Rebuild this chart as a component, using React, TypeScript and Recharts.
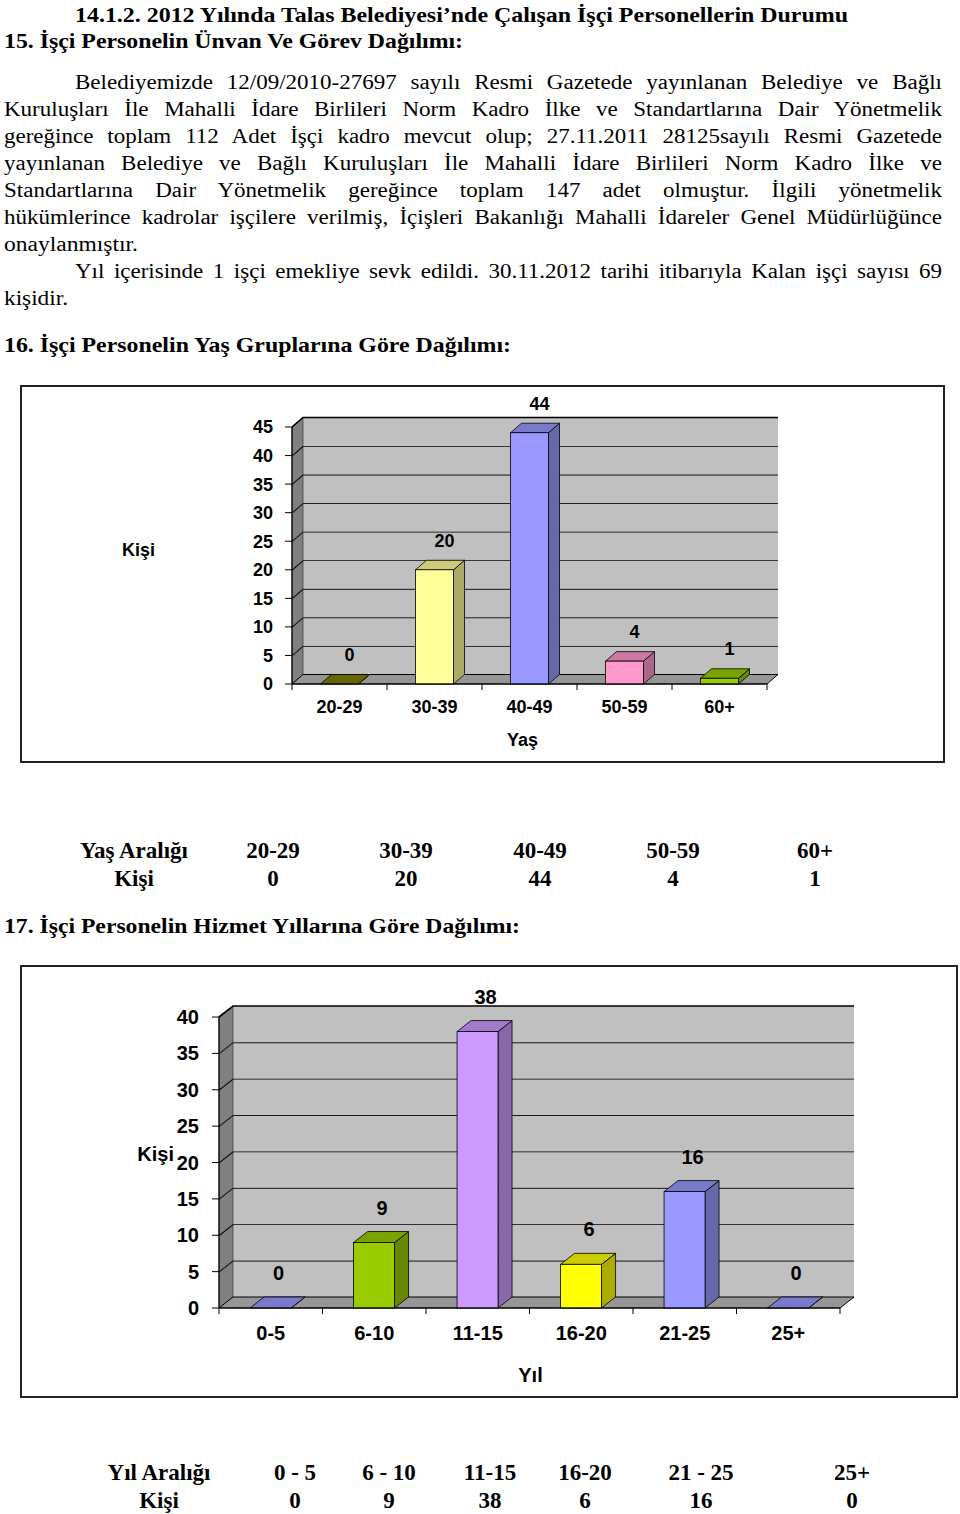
import React, { useLayoutEffect, useRef, useState } from 'react';
import { BarChart, Bar, XAxis, YAxis, ReferenceArea, Cell, LabelList } from 'recharts';

// 16. Yaş grupları
const yasGruplari = ['20-29', '30-39', '40-49', '50-59', '60+'];
const yasKisi = [0, 20, 44, 4, 1];
const yasTicks = [0, 5, 10, 15, 20, 25, 30, 35, 40, 45];

// 17. Hizmet yılları
const yilGruplari = ['0-5', '6-10', '11-15', '16-20', '21-25', '25+'];
const yilTabloEtiketleri = ['0 - 5', '6 - 10', '11-15', '16-20', '21 - 25', '25+'];
const yilKisi = [0, 9, 38, 6, 16, 0];
const yilTicks = [0, 5, 10, 15, 20, 25, 30, 35, 40];

const yasRenkleri = ['#808000', '#FFFF99', '#9999FF', '#FF99CC', '#99CC00'];
const yilRenkleri = ['#9999FF', '#99CC00', '#CC99FF', '#FFFF00', '#9999FF', '#9999FF'];

const yasVeri = yasGruplari.map((ad, i) => ({ ad, kisi: yasKisi[i] }));
const yilVeri = yilGruplari.map((ad, i) => ({ ad, kisi: yilKisi[i] }));

const SERIF = '"Liberation Serif", "Times New Roman", serif';
const SANS = '"Liberation Sans", Arial, sans-serif';

function shade(hex: string, k: number) {
  const n = parseInt(hex.slice(1), 16);
  const c = (v: number) => Math.round(v * k).toString(16).padStart(2, '0');
  return '#' + c((n >> 16) & 255) + c((n >> 8) & 255) + c(n & 255);
}

// 3B çubuk: ön yüz + yan + üst
const kutu = (dx: number, dy: number) => (props: any) => {
  const { x, y, width: w, height: h, fill } = props;
  const b = y + h;
  return (
    <g>
      <polygon
        points={`${x + w},${y} ${x + w + dx},${y + dy} ${x + w + dx},${b + dy} ${x + w},${b}`}
        fill={shade(fill, 0.67)}
        stroke="#000"
        strokeWidth={0.8}
      />
      <polygon
        points={`${x},${y} ${x + dx},${y + dy} ${x + w + dx},${y + dy} ${x + w},${y}`}
        fill={shade(fill, 0.8)}
        stroke="#000"
        strokeWidth={0.8}
      />
      <rect x={x} y={y} width={w} height={h} fill={fill} stroke="#000" strokeWidth={0.8} />
    </g>
  );
};

// arka duvar, sol duvar ve taban, her ızgara aralığı için bir parça
const duvar = (dx: number, dy: number, taban: boolean, n: number) => (props: any) => {
  const { x, y, width: w, height: h } = props;
  const b = y + h;
  return (
    <g>
      <rect x={x + dx} y={y + dy} width={w} height={h} fill="#C0C0C0" />
      <polygon
        points={`${x},${y} ${x + dx},${y + dy} ${x + dx},${b + dy} ${x},${b}`}
        fill="#808080"
        stroke="#222"
        strokeWidth={0.6}
      />
      <polyline
        points={`${x},${y} ${x + dx},${y + dy} ${x + dx + w},${y + dy}`}
        fill="none"
        stroke="#000"
        strokeWidth={1.6}
      />
      {taban && (
        <g>
          <polygon
            points={`${x},${b} ${x + w},${b} ${x + w + dx},${b + dy} ${x + dx},${b + dy}`}
            fill="#969696"
            stroke="#000"
            strokeWidth={1}
          />
          {Array.from({ length: n + 1 }, (_, i) => (
            <line key={i} x1={x + (i * w) / n} y1={b} x2={x + (i * w) / n} y2={b + 6} stroke="#000" strokeWidth={1} />
          ))}
        </g>
      )}
    </g>
  );
};

function Grafik3B(p: any) {
  const tick = { fill: '#000', fontSize: p.yazi, fontWeight: 700, fontFamily: SANS };
  return (
    <>
      <div
        style={{
          position: 'absolute',
          left: p.left,
          top: p.top,
          width: p.width,
          height: p.height,
          border: '2px solid #222',
          boxSizing: 'border-box',
        }}
      />
      <div style={{ position: 'absolute', left: p.left, top: p.top }}>
        <BarChart width={p.width} height={p.height} data={p.veri} margin={p.margin} barCategoryGap="30%">
          <XAxis
            dataKey="ad"
            height={30}
            tickLine={false}
            tickSize={6}
            tickMargin={p.xTickMargin}
            axisLine={{ stroke: '#000', strokeWidth: 1.2 }}
            tick={tick}
            interval={0}
            label={{
              value: p.xTitle,
              position: 'bottom',
              offset: p.xTitleOffset,
              dx: p.xTitleDx,
              style: { ...tick, fill: '#000' },
            }}
          />
          <YAxis
            type="number"
            width={30}
            domain={[0, p.ticks[p.ticks.length - 1]]}
            ticks={p.ticks}
            interval={0}
            tickSize={7}
            tickMargin={p.yTickMargin}
            tickLine={{ stroke: '#000' }}
            axisLine={{ stroke: '#000', strokeWidth: 1.2 }}
            tick={tick}
            label={{
              value: 'Kişi',
              position: 'left',
              offset: p.yTitleOffset,
              dy: p.yTitleDy,
              style: { ...tick, fill: '#000' },
            }}
          />
          {p.ticks.slice(0, -1).map((t: number, i: number) => (
            <ReferenceArea
              key={t}
              y1={t}
              y2={p.ticks[i + 1]}
              ifOverflow="visible"
              shape={duvar(p.dx, p.dy, i === 0, p.veri.length)}
            />
          ))}
          <Bar dataKey="kisi" isAnimationActive={false} shape={kutu(p.dx, p.dy)}>
            {p.veri.map((_: any, i: number) => (
              <Cell key={i} fill={p.renkler[i]} />
            ))}
            <LabelList
              dataKey="kisi"
              content={(l: any) => {
                const vb = l.viewBox || l;
                const x = vb.x ?? l.x;
                const y = vb.y ?? l.y;
                const w = vb.width ?? l.width;
                return (
                  <text
                    x={x + w / 2 + p.etiketDx}
                    y={y - p.etiketDy}
                    textAnchor="middle"
                    dominantBaseline="central"
                    {...tick}
                  >
                    {l.value}
                  </text>
                );
              }}
            />
          </Bar>
        </BarChart>
      </div>
    </>
  );
}

function Satir({ x, base, right, size = 20, bold = false, justify = false, children }: any) {
  const olc = useRef<HTMLSpanElement>(null);
  const [k, setK] = useState(1.15);
  const hedef = right - x;
  useLayoutEffect(() => {
    const el = olc.current;
    if (!el) return;
    const dogal = el.getBoundingClientRect().width;
    if (!dogal) return;
    setK(justify ? Math.min(1.15, (hedef - 2) / dogal) : hedef / dogal);
  }, [hedef, justify]);
  const font = {
    fontFamily: SERIF,
    fontSize: size,
    fontWeight: bold ? 700 : 400,
    lineHeight: `${size}px`,
    color: '#000',
  };
  return (
    <>
      <span
        ref={olc}
        style={{ ...font, position: 'absolute', left: 0, top: 0, visibility: 'hidden', whiteSpace: 'nowrap' }}
      >
        {children}
      </span>
      <div
        style={{
          ...font,
          position: 'absolute',
          left: x,
          top: base - 0.8375 * size,
          width: hedef / k,
          transform: `scaleX(${k})`,
          transformOrigin: '0 0',
          textAlign: justify ? 'justify' : 'left',
          textAlignLast: justify ? 'justify' : 'auto',
          whiteSpace: justify ? 'normal' : 'nowrap',
        }}
      >
        {children}
      </div>
    </>
  );
}

function Hucre({ cx, base, children }: any) {
  return (
    <div
      style={{
        position: 'absolute',
        left: cx - 80,
        width: 160,
        top: base - 0.8375 * 23,
        textAlign: 'center',
        fontFamily: SERIF,
        fontSize: 23,
        fontWeight: 700,
        lineHeight: '23px',
        whiteSpace: 'nowrap',
      }}
    >
      {children}
    </div>
  );
}

const yasSutunX = [273, 406, 540, 673, 815];
const yilSutunX = [295, 389, 490, 585, 701, 852];

export default function App() {
  return (
    <div style={{ position: 'absolute', left: 0, top: 0, width: 960, height: 1514, background: '#fff', overflow: 'hidden' }}>
      <Satir x={75} base={22.5} right={848} size={21} bold>
        14.1.2. 2012 Yılında Talas Belediyesi’nde Çalışan İşçi Personellerin Durumu
      </Satir>
      <Satir x={4} base={49} right={463} size={21} bold>
        15. İşçi Personelin Ünvan Ve Görev Dağılımı:
      </Satir>

      <Satir x={75} base={88.3} right={942} justify>
        Belediyemizde 12/09/2010-27697 sayılı Resmi Gazetede yayınlanan Belediye ve Bağlı
      </Satir>
      <Satir x={4} base={115.4} right={942} justify>
        Kuruluşları İle Mahalli İdare Birlileri Norm Kadro İlke ve Standartlarına Dair Yönetmelik
      </Satir>
      <Satir x={4} base={142.5} right={942} justify>
        gereğince toplam 112 Adet İşçi kadro mevcut olup; 27.11.2011 28125sayılı Resmi Gazetede
      </Satir>
      <Satir x={4} base={169.6} right={942} justify>
        yayınlanan Belediye ve Bağlı Kuruluşları İle Mahalli İdare Birlileri Norm Kadro İlke ve
      </Satir>
      <Satir x={4} base={196.7} right={942} justify>
        Standartlarına Dair Yönetmelik gereğince toplam 147 adet olmuştur. İlgili yönetmelik
      </Satir>
      <Satir x={4} base={223.8} right={942} justify>
        hükümlerince kadrolar işçilere verilmiş, İçişleri Bakanlığı Mahalli İdareler Genel Müdürlüğünce
      </Satir>
      <Satir x={4} base={250.9} right={138}>
        onaylanmıştır.
      </Satir>
      <Satir x={75} base={278} right={942} justify>
        Yıl içerisinde 1 işçi emekliye sevk edildi. 30.11.2012 tarihi itibarıyla Kalan işçi sayısı 69
      </Satir>
      <Satir x={4} base={305.1} right={68}>
        kişidir.
      </Satir>

      <Satir x={4} base={353} right={511} size={21} bold>
        16. İşçi Personelin Yaş Gruplarına Göre Dağılımı:
      </Satir>

      <Grafik3B
        left={20}
        top={385}
        width={925}
        height={378}
        margin={{ top: 42, right: 178, bottom: 49, left: 242 }}
        veri={yasVeri}
        renkler={yasRenkleri}
        ticks={yasTicks}
        dx={11}
        dy={-9.5}
        yazi={18}
        xTitle="Yaş"
        xTitleOffset={19}
        xTitleDx={-7}
        yTitleOffset={107}
        yTitleDy={-6}
        xTickMargin={10}
        yTickMargin={12}
        etiketDx={10}
        etiketDy={29}
      />

      <Hucre cx={134} base={858.5}>Yaş Aralığı</Hucre>
      <Hucre cx={134} base={886.5}>Kişi</Hucre>
      {yasGruplari.map((g, i) => (
        <Hucre key={g} cx={yasSutunX[i]} base={858.5}>{g}</Hucre>
      ))}
      {yasKisi.map((v, i) => (
        <Hucre key={i} cx={yasSutunX[i]} base={886.5}>{v}</Hucre>
      ))}

      <Satir x={4} base={934} right={520} size={21} bold>
        17. İşçi Personelin Hizmet Yıllarına Göre Dağılımı:
      </Satir>

      <Grafik3B
        left={20}
        top={965}
        width={938}
        height={433}
        margin={{ top: 52, right: 118, bottom: 60, left: 169 }}
        veri={yilVeri}
        renkler={yilRenkleri}
        ticks={yilTicks}
        dx={14}
        dy={-11}
        yazi={20}
        xTitle="Yıl"
        xTitleOffset={30}
        xTitleDx={1}
        yTitleOffset={15}
        yTitleDy={-8.5}
        xTickMargin={12}
        yTickMargin={13}
        etiketDx={8}
        etiketDy={35}
      />

      <Hucre cx={159} base={1480}>Yıl Aralığı</Hucre>
      <Hucre cx={159} base={1508}>Kişi</Hucre>
      {yilTabloEtiketleri.map((g, i) => (
        <Hucre key={g} cx={yilSutunX[i]} base={1480}>{g}</Hucre>
      ))}
      {yilKisi.map((v, i) => (
        <Hucre key={i} cx={yilSutunX[i]} base={1508}>{v}</Hucre>
      ))}
    </div>
  );
}
